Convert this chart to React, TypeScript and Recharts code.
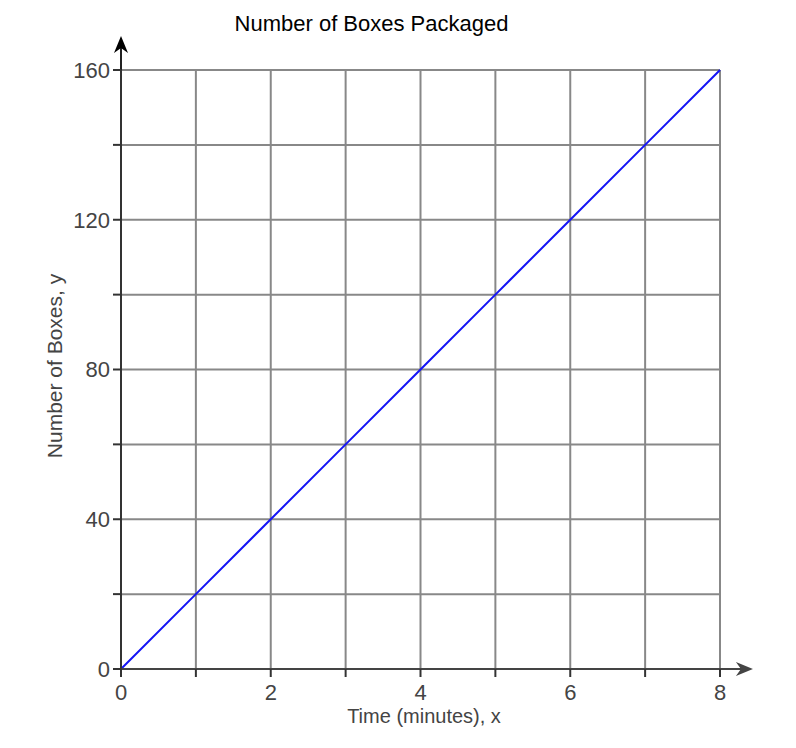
import { LineChart, Line, XAxis, YAxis, CartesianGrid, ReferenceLine } from "recharts";

const minutes = [0, 1, 2, 3, 4, 5, 6, 7, 8];
const boxes = [0, 20, 40, 60, 80, 100, 120, 140, 160];
const xTicks = [0, 1, 2, 3, 4, 5, 6, 7, 8];
const yTicks = [0, 20, 40, 60, 80, 100, 120, 140, 160];

const data = minutes.map((x, i) => ({ x, y: boxes[i] }));

const XArrow = (p: any) => {
  const { x1, y1, x2, y2 } = p;
  return (
    <g>
      <line x1={x1} y1={y1} x2={x2 - 10} y2={y2} stroke="#444" strokeWidth={2} />
      <path d={`M${x2},${y2} L${x2 - 17},${y2 - 7} L${x2 - 12},${y2} L${x2 - 17},${y2 + 7} Z`} fill="#444" />
    </g>
  );
};

const YArrow = (p: any) => {
  const { x1, y1, x2, y2 } = p;
  return (
    <g>
      <line x1={x1} y1={y1} x2={x2} y2={y2 + 10} stroke="#222" strokeWidth={2} />
      <path d={`M${x2},${y2} L${x2 - 7},${y2 + 17} L${x2},${y2 + 12} L${x2 + 7},${y2 + 17} Z`} fill="#000" />
    </g>
  );
};

export default function App() {
  const font = "'Liberation Sans', Arial, sans-serif";
  return (
    <div style={{ position: "absolute", left: 0, top: 0 }}>
      <LineChart
        width={796}
        height={748}
        data={data}
        margin={{ top: 70, right: 76, left: 61, bottom: 39 }}
        style={{ fontFamily: font }}
      >
        <CartesianGrid stroke="#888" strokeWidth={2} horizontalValues={yTicks} verticalValues={xTicks} />
        <XAxis
          type="number"
          dataKey="x"
          domain={[0, 8]}
          ticks={xTicks}
          height={40}
          tickSize={8}
          tickMargin={7}
          tickFormatter={(v: number) => (v % 2 === 0 ? String(v) : "")}
          tick={{ fill: "#444", fontSize: 22 }}
          axisLine={{ stroke: "#444", strokeWidth: 2 }}
          tickLine={{ stroke: "#333", strokeWidth: 2 }}
        />
        <YAxis
          type="number"
          domain={[0, 160]}
          ticks={yTicks}
          width={60}
          tickSize={8}
          tickMargin={3}
          tickFormatter={(v: number) => (v % 40 === 0 ? String(v) : "")}
          tick={{ fill: "#444", fontSize: 22 }}
          axisLine={{ stroke: "#333", strokeWidth: 2 }}
          tickLine={{ stroke: "#333", strokeWidth: 2 }}
        />
        <ReferenceLine
          segment={[{ x: 0, y: 0 }, { x: 8.44, y: 0 }]}
          ifOverflow="visible"
          shape={XArrow}
        />
        <ReferenceLine
          segment={[{ x: 0, y: 0 }, { x: 0, y: 169.1 }]}
          ifOverflow="visible"
          shape={YArrow}
        />
        <Line
          type="linear"
          dataKey="y"
          stroke="#1414f5"
          strokeWidth={2}
          dot={false}
          isAnimationActive={false}
        />
        <text x={371.5} y={31} textAnchor="middle" fill="#000" fontSize={22} fontFamily={font}>
          Number of Boxes Packaged
        </text>
        <text x={424} y={723} textAnchor="middle" fill="#444" fontSize={20} fontFamily={font}>
          Time (minutes), x
        </text>
        <text
          x={62}
          y={366}
          textAnchor="middle"
          fill="#444"
          fontSize={21}
          fontFamily={font}
          transform="rotate(-90 62 366)"
        >
          Number of Boxes, y
        </text>
      </LineChart>
    </div>
  );
}
